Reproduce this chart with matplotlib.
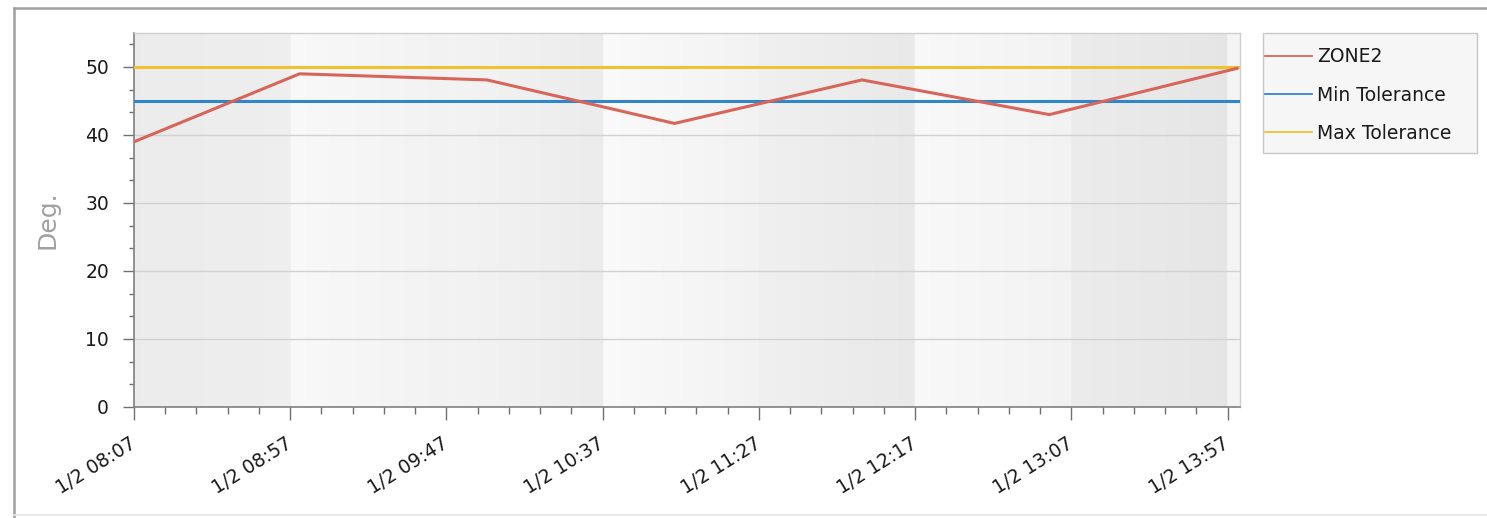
import matplotlib
matplotlib.use("Agg")
import matplotlib.pyplot as plt
import matplotlib.dates as mdates
from matplotlib.ticker import MultipleLocator, FixedLocator
from matplotlib.lines import Line2D
from matplotlib.patches import Rectangle
import numpy as np
import pandas as pd

# ---- data ----
times = ["2024-01-02 08:07", "2024-01-02 09:00", "2024-01-02 10:00", "2024-01-02 11:00",
         "2024-01-02 12:00", "2024-01-02 13:00", "2024-01-02 14:00"]
zone2 = [39.0, 49.0, 48.1, 41.7, 48.1, 43.0, 49.8]
min_tol = 45
max_tol = 50
tick_times = ["2024-01-02 08:07", "2024-01-02 08:57", "2024-01-02 09:47", "2024-01-02 10:37",
              "2024-01-02 11:27", "2024-01-02 12:17", "2024-01-02 13:07", "2024-01-02 13:57"]
x_start = "2024-01-02 08:07"
x_end = "2024-01-02 14:01"
series_labels = ["ZONE2", "Min Tolerance", "Max Tolerance"]
y_label = "Deg."

# band shades (left, right) gray levels for each interval between major ticks
band_shades = [(0.925, 0.935), (0.975, 0.950), (0.955, 0.925), (0.980, 0.950),
               (0.940, 0.915), (0.975, 0.950), (0.925, 0.900), (0.96, 0.96)]

t = pd.to_datetime(times)
tt = pd.to_datetime(tick_times)
x0, x1 = mdates.date2num(pd.Timestamp(x_start)), mdates.date2num(pd.Timestamp(x_end))

W, H = 1487, 518
fig = plt.figure(figsize=(W / 100, H / 100), dpi=100)
fig.patch.set_facecolor("white")
ax = fig.add_axes([134 / W, 1 - 407 / H, (1240 - 134) / W, (407 - 33) / H])

# background banded gradient
ymin, ymax = 0, 55
edges = list(mdates.date2num(tt)) + [x1]
ncol = 1200
xs = np.linspace(x0, x1, ncol)
vals = np.zeros(ncol)
for i in range(len(edges) - 1):
    a, b = edges[i], edges[i + 1]
    m = (xs >= a) & (xs <= b)
    l, r = band_shades[i]
    vals[m] = l + (r - l) * (xs[m] - a) / max(b - a, 1e-9)
img = np.stack([vals, vals, vals], axis=-1)[None, :, :]
img = np.repeat(img, 2, axis=0)
ax.imshow(img, extent=[x0, x1, ymin, ymax], aspect="auto", zorder=0, interpolation="bilinear")

ax.set_xlim(x0, x1)
ax.set_ylim(ymin, ymax)

ax.yaxis.set_major_locator(MultipleLocator(10))
ax.yaxis.set_minor_locator(MultipleLocator(10 / 3))
ax.grid(axis="y", which="major", color="#d2d2d2", linewidth=1.0, zorder=1)

ax.plot(t, zone2, color="#d8655a", linewidth=2.2, zorder=4, label=series_labels[0])
ax.axhline(min_tol, color="#2f86c8", linewidth=2.2, zorder=3, label=series_labels[1])
ax.axhline(max_tol, color="#f0c22c", linewidth=2.2, zorder=3, label=series_labels[2])

ax.set_xticks(mdates.date2num(tt))
minor_x = mdates.date2num(pd.date_range(x_start, x_end, freq="10min"))
ax.xaxis.set_minor_locator(FixedLocator(minor_x))
ax.set_xticklabels([f"{d.month}/{d.day} {d.strftime('%H:%M')}" for d in tt],
                   rotation=32, ha="right", va="center", rotation_mode="anchor",
                   fontsize=13.5, color="#1a1a1a")
for lab in ax.get_yticklabels():
    lab.set_fontsize(13.5)
    lab.set_color("#1a1a1a")

ax.tick_params(axis="y", which="major", length=8, width=1, color="#707070", pad=10)
ax.tick_params(axis="y", which="minor", length=3.8, width=1, color="#707070")
ax.tick_params(axis="x", which="major", length=9, width=1, color="#707070", pad=16)
ax.tick_params(axis="x", which="minor", length=5, width=1, color="#707070")

for s in ["left", "bottom"]:
    ax.spines[s].set_color("#808080")
    ax.spines[s].set_linewidth(1.2)
for s in ["top", "right"]:
    ax.spines[s].set_color("#cfcfcf")
    ax.spines[s].set_linewidth(1.0)

ax.set_ylabel(y_label, fontsize=18, color="#a0a0a0")
ax.yaxis.set_label_coords((47.5 - 134) / (1240 - 134), 0.5)
ax.yaxis.label.set_va("center")

# legend box (frame drawn as a rectangle behind the legend entries)
fig.add_artist(Rectangle((1263 / W, 1 - 153 / H), 214 / W, 120 / H, transform=fig.transFigure,
                         facecolor="#f6f6f6", edgecolor="#c8c8c8", linewidth=1.0, zorder=1))
handles = [Line2D([], [], color="#d8655a", linewidth=1.3),
           Line2D([], [], color="#2f86c8", linewidth=1.3),
           Line2D([], [], color="#f0c22c", linewidth=1.3)]
leg = fig.legend(handles, series_labels, loc="upper left",
                 bbox_to_anchor=(1265 / W, 1 - 47.5 / H), borderaxespad=0,
                 fontsize=13.5, frameon=False,
                 handlelength=2.5, handletextpad=0.26, labelspacing=1.02,
                 borderpad=0.0)
leg.set_zorder(2)
for txt in leg.get_texts():
    txt.set_color("#1a1a1a")

# outer frame of the chart control
fig.add_artist(Line2D([14 / W, 1.0], [1 - 8 / H, 1 - 8 / H], color="#a0a0a0", linewidth=1.8,
                      transform=fig.transFigure))
fig.add_artist(Line2D([14 / W, 14 / W], [1 - 8 / H, 0.0], color="#a0a0a0", linewidth=1.8,
                      transform=fig.transFigure))
fig.add_artist(Line2D([14 / W, 1.0], [1 - 515 / H, 1 - 515 / H], color="#e6e6e6", linewidth=1.2,
                      transform=fig.transFigure))

fig.savefig("out.png", dpi=100, facecolor="white")
